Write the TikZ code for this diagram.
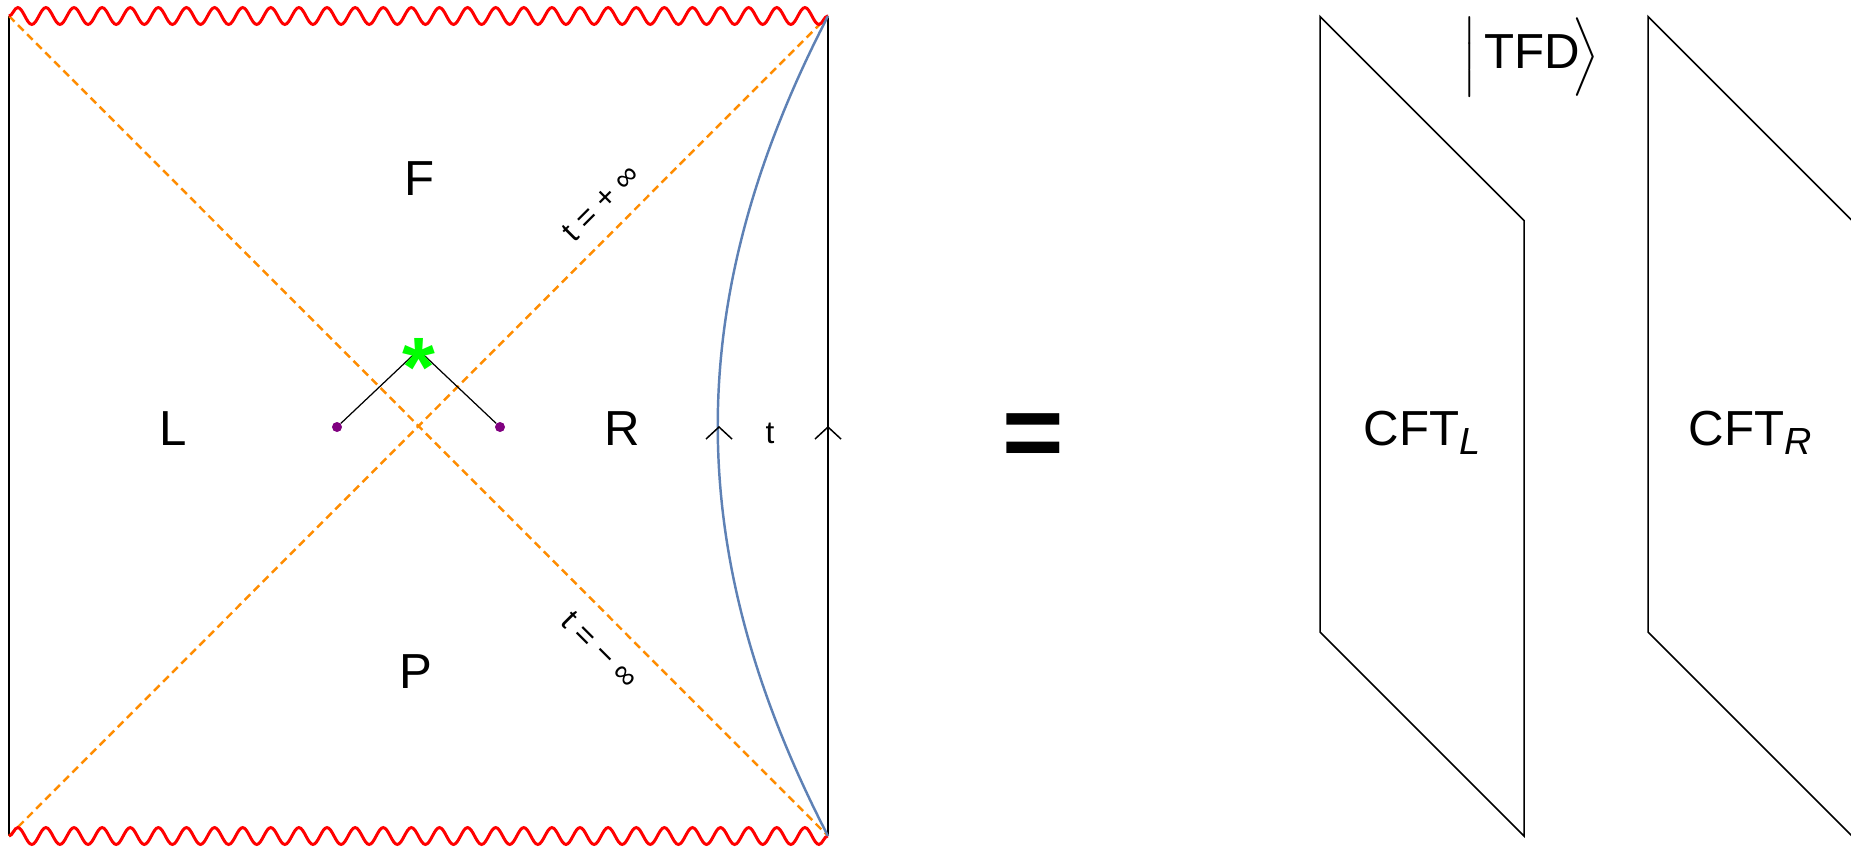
\documentclass[tikz,border=0pt]{standalone}
\usepackage{amsmath}
\usepackage{fontspec}
\setmainfont{Liberation Sans}
\usetikzlibrary{positioning,calc,decorations.pathmorphing}
\definecolor{hzorange}{RGB}{255,140,0}
\definecolor{bdblue}{RGB}{94,129,181}
\definecolor{singred}{RGB}{255,0,0}
\definecolor{opgreen}{RGB}{0,255,0}
\definecolor{evpurple}{RGB}{128,0,128}
\newcommand{\cftsub}[1]{\raisebox{-5.4pt}{\fontsize{21.5}{22}\selectfont\itshape #1}}
\tikzset{
    region label/.style={font=\fontsize{28}{34}\selectfont, inner sep=0pt, anchor=base},
    time label/.style={font=\fontsize{18}{22}\selectfont, inner sep=0pt},
    singularity/.style={draw=singred, line width=1.7pt, decorate,
        decoration={snake, segment length=16pt, amplitude=4.8pt}},
    horizon/.style={draw=hzorange, line width=1.4pt, dash pattern=on 4.5pt off 2.8pt},
    wall/.style={line width=0.85pt},
    event/.style={circle, fill=evpurple, inner sep=0pt, minimum size=5.7pt}
}

\begin{document}
\begin{tikzpicture}[x=0.02cm, y=-0.02cm]
    \clip (0,0) rectangle (1851,846);
    \coordinate (tl) at (9,16);
    \coordinate (tr) at (828,16);
    \coordinate (bl) at (9,836);
    \coordinate (br) at (828,836);
    \draw[wall] (tl) -- (bl);
    \draw[wall] (tr) -- (br);
    \draw[horizon] (tl) -- (br);
    \draw[horizon] (bl) -- (tr);
    \draw[singularity] (tl) -- (tr);
    \draw[singularity] (bl) -- (br);
    \draw[bdblue, line width=1.4pt] (tr) .. controls (681,300) and (681,552) .. (br);
    \coordinate (arrB) at (719,427);
    \coordinate (arrW) at (828,427);
    \foreach \a in {arrB,arrW}
        \draw[wall] ($(\a)+(-13,12)$) -- (\a) -- ($(\a)+(13,12)$);

    \node[region label] (F) at (419.5,195.7) {F};
    \node[region label] (P) at (416,688.5) {P};
    \node[region label] (L) at (173,445) {L};
    \node[region label] (R) at (622,445) {R};
    \node[time label, anchor=base] (t) at (770,443.5) {t};
    \node[time label, rotate=45] (tplus) at (601,203) {t = + ∞};
    \node[time label, rotate=-45] (tminus) at (600,650) {t = − ∞};

    \node[event] (evL) at (337,427) {};
    \node[event] (evR) at (500,427) {};
    \coordinate (apex) at (418.5,350);
    \draw[line width=0.7pt] (evL) -- (apex) -- (evR);
    \node[text=opgreen, font=\fontsize{48}{48}\selectfont\bfseries, inner sep=0pt, anchor=base] (star) at (418.5,396) {*};

    \node[font=\fontsize{60}{60}\selectfont\bfseries, inner sep=0pt] (eq) at (1033,441.5) {=};

    \foreach \x/\s in {1320/L,1648/R} {
        \draw[wall] (\x,16.5) -- ++(204,204) -- ++(0,615.5) -- ++(-204,-204) -- cycle;
        \node[region label] (cft\s) at (\x+102,445) {CFT\cftsub{\s}};
    }
    \node[region label] (tfd) at (1531,68) {$\Bigl|\,\text{TFD}\!\Bigr\rangle$};
\end{tikzpicture}
\end{document}
